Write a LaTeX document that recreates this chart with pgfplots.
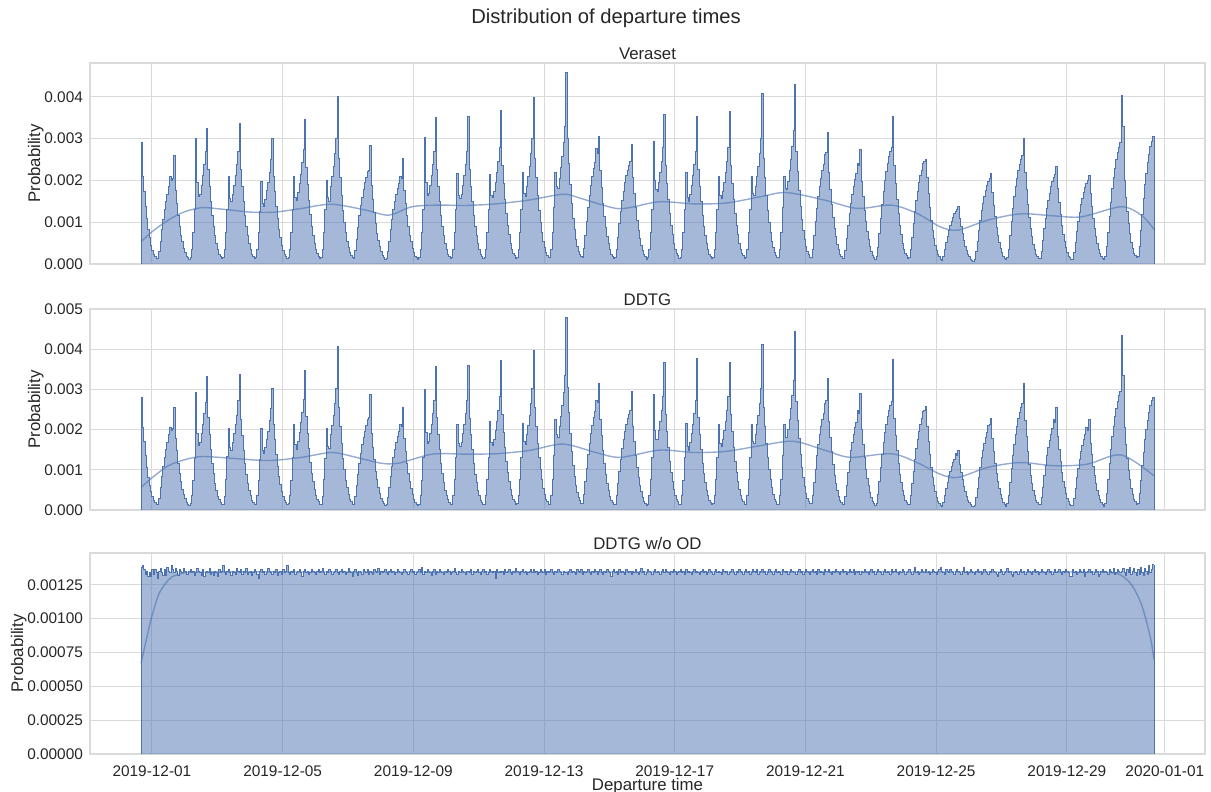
\documentclass[border=0pt]{standalone}
\usepackage{fontspec}
\setmainfont{Liberation Sans}
\usepackage{pgfplots}
\usepackage{pgfplotstable}
\pgfplotsset{compat=1.18}
\definecolor{deep}{HTML}{4C72B0}
\definecolor{gridc}{HTML}{DADADA}
\definecolor{txt}{HTML}{262626}

% Veraset: hourly bins, values in units of 1e-5
\pgfplotstableread[row sep=\\,header=false]{
290\\210\\173\\138\\108\\83\\63\\45\\33\\23\\18\\13\\13\\29\\55\\82\\107\\130\\149\\166\\185\\210\\200\\205\\
260\\176\\145\\116\\90\\69\\53\\38\\27\\19\\15\\11\\15\\35\\75\\130\\300\\194\\162\\167\\189\\211\\238\\270\\
325\\227\\186\\149\\116\\89\\68\\49\\35\\24\\19\\14\\15\\35\\75\\130\\210\\157\\149\\167\\189\\211\\238\\270\\
337\\227\\186\\149\\116\\89\\68\\49\\35\\24\\19\\14\\15\\35\\75\\125\\197\\145\\138\\155\\175\\195\\220\\250\\
300\\210\\173\\138\\108\\83\\63\\45\\33\\23\\18\\13\\15\\35\\75\\130\\210\\160\\151\\171\\193\\215\\242\\275\\
346\\231\\190\\151\\118\\91\\69\\50\\36\\25\\19\\14\\15\\35\\75\\130\\200\\160\\150\\186\\210\\234\\264\\300\\
402\\252\\207\\165\\129\\99\\75\\54\\39\\27\\21\\15\\14\\32\\59\\88\\115\\140\\160\\178\\194\\207\\222\\225\\
283\\189\\155\\124\\97\\74\\56\\41\\29\\20\\16\\11\\13\\29\\55\\82\\107\\130\\149\\166\\181\\193\\210\\205\\
252\\176\\145\\116\\90\\69\\53\\38\\27\\19\\15\\11\\15\\35\\75\\130\\303\\194\\165\\170\\189\\211\\238\\270\\
350\\227\\186\\149\\116\\89\\68\\49\\35\\24\\19\\14\\15\\35\\75\\130\\217\\165\\158\\167\\189\\211\\238\\270\\
352\\227\\186\\149\\116\\89\\68\\49\\35\\24\\19\\14\\15\\35\\75\\130\\215\\165\\160\\174\\196\\218\\246\\280\\
368\\235\\193\\154\\120\\92\\70\\50\\36\\25\\20\\14\\15\\35\\75\\130\\220\\170\\162\\186\\210\\234\\264\\300\\
398\\252\\207\\165\\129\\99\\75\\54\\39\\27\\21\\15\\15\\35\\75\\135\\220\\185\\180\\205\\231\\257\\290\\330\\
458\\300\\240\\190\\145\\110\\83\\59\\43\\30\\23\\17\\16\\37\\69\\103\\135\\164\\188\\209\\228\\244\\277\\265\\
305\\223\\183\\146\\114\\87\\66\\48\\34\\24\\19\\13\\15\\34\\64\\96\\125\\152\\174\\194\\211\\225\\235\\245\\
285\\206\\169\\135\\105\\81\\61\\44\\32\\22\\17\\12\\15\\35\\75\\130\\294\\200\\178\\174\\196\\218\\246\\280\\
358\\235\\193\\154\\120\\92\\70\\50\\36\\25\\20\\14\\15\\35\\75\\130\\220\\160\\150\\167\\189\\211\\238\\270\\
352\\227\\186\\149\\116\\89\\68\\49\\35\\24\\19\\14\\15\\35\\75\\130\\210\\165\\158\\174\\196\\218\\246\\280\\
364\\235\\193\\154\\120\\92\\70\\50\\36\\25\\20\\14\\15\\35\\75\\130\\210\\170\\165\\186\\210\\234\\264\\300\\
408\\252\\207\\165\\129\\99\\75\\54\\39\\27\\21\\15\\15\\35\\75\\135\\210\\180\\178\\198\\224\\250\\282\\320\\
430\\269\\221\\176\\138\\106\\80\\58\\42\\29\\22\\16\\16\\36\\68\\101\\133\\161\\185\\205\\224\\239\\262\\268\\
314\\218\\179\\143\\112\\86\\65\\47\\34\\23\\18\\13\\14\\33\\61\\92\\120\\146\\167\\186\\202\\216\\240\\235\\
273\\197\\162\\129\\101\\78\\59\\42\\31\\21\\16\\12\\17\\39\\73\\109\\143\\174\\199\\221\\241\\258\\269\\280\\
354\\235\\193\\154\\120\\92\\70\\50\\36\\25\\20\\14\\15\\34\\64\\96\\125\\152\\174\\194\\211\\225\\240\\245\\
249\\206\\169\\135\\105\\81\\61\\44\\32\\22\\17\\12\\8\\18\\34\\51\\66\\81\\92\\103\\112\\120\\125\\130\\
137\\109\\90\\72\\56\\43\\33\\23\\17\\12\\9\\7\\12\\29\\53\\80\\105\\127\\146\\162\\176\\189\\197\\205\\
217\\172\\141\\113\\88\\68\\51\\37\\27\\18\\14\\10\\16\\36\\68\\101\\133\\161\\185\\205\\224\\239\\250\\260\\
300\\218\\179\\143\\112\\86\\65\\47\\34\\23\\18\\13\\13\\30\\56\\84\\110\\133\\153\\170\\185\\198\\206\\215\\
233\\181\\148\\118\\92\\71\\54\\39\\28\\19\\15\\11\\12\\28\\52\\78\\102\\124\\142\\158\\172\\184\\192\\200\\
211\\168\\138\\110\\86\\66\\50\\36\\26\\18\\14\\10\\17\\41\\75\\113\\148\\180\\206\\229\\249\\267\\280\\290\\
404\\330\\200\\160\\125\\96\\73\\52\\38\\26\\20\\15\\18\\43\\80\\119\\156\\190\\217\\242\\263\\282\\294\\306\\
306\\
}\tblA

% DDTG
\pgfplotstableread[row sep=\\,header=false]{
279\\205\\170\\136\\106\\82\\62\\45\\33\\23\\18\\13\\13\\29\\56\\83\\108\\131\\150\\168\\188\\205\\198\\203\\
256\\178\\147\\115\\91\\70\\52\\38\\28\\19\\15\\12\\16\\36\\74\\128\\292\\190\\160\\168\\190\\213\\240\\268\\
331\\229\\188\\150\\117\\90\\67\\48\\34\\25\\19\\14\\15\\34\\76\\132\\202\\155\\147\\168\\191\\212\\236\\272\\
338\\225\\185\\148\\115\\88\\67\\48\\35\\24\\18\\14\\15\\36\\74\\126\\202\\147\\140\\156\\176\\196\\222\\252\\
302\\212\\175\\139\\108\\84\\63\\46\\33\\23\\18\\13\\16\\35\\74\\131\\214\\162\\150\\170\\194\\217\\243\\276\\
346\\233\\190\\152\\119\\90\\70\\50\\36\\25\\20\\14\\15\\34\\76\\129\\202\\158\\152\\187\\211\\236\\266\\302\\
408\\254\\208\\166\\128\\100\\74\\55\\39\\27\\21\\15\\14\\33\\60\\89\\116\\141\\162\\180\\196\\210\\226\\229\\
287\\191\\156\\125\\96\\75\\56\\41\\29\\20\\16\\12\\13\\30\\56\\83\\108\\131\\150\\168\\183\\196\\212\\208\\
256\\178\\146\\117\\91\\70\\53\\38\\27\\19\\15\\11\\15\\36\\74\\131\\299\\192\\166\\171\\191\\213\\240\\273\\
358\\229\\187\\150\\117\\90\\68\\49\\35\\25\\19\\14\\15\\35\\76\\131\\214\\166\\157\\168\\190\\212\\240\\272\\
360\\228\\188\\150\\117\\89\\68\\49\\35\\24\\19\\14\\15\\36\\75\\130\\220\\167\\161\\175\\197\\220\\248\\283\\
373\\237\\194\\155\\121\\93\\70\\51\\36\\25\\20\\14\\16\\35\\76\\131\\215\\171\\163\\188\\211\\236\\266\\302\\
398\\254\\208\\166\\130\\100\\75\\54\\39\\27\\21\\15\\15\\36\\75\\136\\225\\187\\181\\207\\233\\259\\292\\334\\
478\\305\\242\\191\\146\\111\\84\\60\\43\\30\\23\\17\\16\\38\\70\\104\\137\\166\\190\\211\\230\\246\\272\\268\\
316\\225\\185\\147\\115\\88\\66\\48\\34\\24\\19\\13\\15\\35\\65\\97\\126\\154\\176\\196\\213\\227\\238\\248\\
295\\208\\171\\136\\106\\82\\62\\45\\32\\22\\17\\12\\15\\36\\76\\131\\287\\198\\176\\175\\197\\220\\248\\283\\
367\\237\\195\\155\\121\\93\\70\\51\\36\\25\\20\\14\\15\\35\\74\\131\\215\\158\\149\\168\\190\\213\\240\\272\\
378\\229\\188\\150\\117\\90\\68\\49\\35\\24\\19\\14\\16\\36\\76\\131\\214\\166\\159\\175\\198\\220\\248\\283\\
367\\237\\195\\155\\121\\93\\71\\51\\36\\25\\20\\14\\15\\35\\75\\131\\214\\171\\166\\188\\212\\236\\266\\303\\
412\\254\\209\\166\\130\\100\\75\\55\\39\\27\\21\\15\\15\\36\\76\\136\\214\\181\\180\\200\\226\\252\\284\\322\\
444\\271\\223\\177\\139\\107\\81\\58\\42\\29\\22\\16\\16\\37\\69\\102\\135\\163\\187\\207\\226\\241\\265\\272\\
327\\221\\181\\145\\113\\87\\66\\48\\34\\23\\18\\13\\14\\34\\62\\93\\121\\148\\169\\188\\205\\219\\247\\240\\
289\\200\\164\\131\\102\\79\\60\\43\\31\\21\\16\\12\\16\\38\\70\\105\\138\\167\\192\\213\\232\\248\\259\\270\\
374\\227\\186\\149\\116\\89\\68\\49\\35\\24\\19\\14\\15\\35\\65\\97\\126\\154\\176\\196\\213\\228\\245\\248\\
257\\208\\171\\137\\106\\82\\62\\45\\32\\22\\17\\12\\9\\19\\36\\53\\69\\85\\97\\108\\118\\126\\140\\135\\
147\\114\\94\\75\\58\\45\\34\\24\\18\\13\\10\\8\\12\\30\\54\\82\\107\\130\\149\\165\\180\\193\\210\\212\\
227\\177\\145\\116\\90\\70\\53\\38\\28\\19\\15\\10\\16\\37\\69\\103\\135\\164\\188\\209\\228\\243\\255\\265\\
316\\222\\183\\146\\114\\87\\66\\48\\35\\24\\18\\13\\13\\31\\57\\86\\112\\136\\156\\173\\189\\202\\225\\218\\
254\\183\\150\\120\\94\\72\\55\\40\\29\\20\\15\\11\\12\\29\\53\\80\\104\\126\\145\\161\\175\\188\\205\\198\\
225\\166\\137\\109\\85\\65\\49\\36\\26\\18\\14\\10\\17\\42\\77\\115\\150\\183\\209\\232\\253\\271\\285\\296\\
433\\335\\205\\163\\127\\98\\75\\54\\39\\27\\20\\15\\17\\40\\74\\110\\144\\175\\200\\222\\242\\260\\272\\281\\
281\\
}\tblB

% DDTG w/o OD
\pgfplotstableread[row sep=\\,header=false]{
138\\139\\136\\133\\135\\131\\134\\131\\136\\133\\136\\134\\130\\135\\137\\134\\132\\136\\132\\138\\135\\134\\139\\136\\
134\\137\\135\\132\\136\\135\\134\\137\\135\\133\\133\\135\\136\\134\\135\\132\\134\\137\\135\\134\\132\\136\\131\\134\\
135\\134\\137\\133\\134\\132\\135\\134\\131\\136\\134\\135\\139\\134\\133\\135\\136\\134\\132\\135\\134\\133\\137\\135\\
134\\136\\133\\135\\134\\137\\133\\134\\135\\132\\134\\136\\135\\133\\130\\135\\136\\134\\135\\133\\134\\137\\135\\134\\
133\\135\\134\\136\\132\\134\\135\\133\\136\\134\\135\\139\\134\\133\\135\\134\\136\\133\\134\\135\\136\\134\\131\\135\\
136\\134\\135\\133\\134\\136\\135\\134\\133\\135\\136\\134\\135\\137\\134\\133\\135\\134\\136\\135\\133\\134\\135\\136\\
134\\133\\135\\136\\134\\135\\133\\134\\137\\135\\134\\131\\135\\136\\134\\132\\135\\134\\133\\136\\135\\134\\136\\133\\
135\\134\\133\\136\\135\\134\\137\\133\\135\\134\\135\\136\\134\\133\\135\\136\\134\\135\\133\\134\\136\\135\\134\\133\\
134\\136\\135\\134\\133\\135\\136\\134\\135\\133\\134\\135\\136\\134\\138\\133\\135\\134\\136\\135\\134\\132\\135\\136\\
133\\135\\134\\136\\135\\134\\133\\135\\134\\136\\135\\133\\134\\135\\137\\134\\133\\135\\134\\136\\135\\134\\133\\135\\
135\\134\\136\\133\\135\\134\\135\\136\\134\\133\\135\\136\\134\\135\\133\\134\\136\\135\\134\\135\\130\\136\\134\\135\\
134\\135\\133\\136\\134\\135\\136\\134\\133\\135\\134\\137\\135\\134\\133\\135\\136\\134\\135\\133\\134\\135\\136\\134\\
136\\134\\135\\133\\134\\136\\135\\134\\136\\133\\135\\134\\135\\136\\134\\133\\135\\134\\136\\135\\134\\133\\135\\134\\
134\\133\\135\\136\\134\\135\\134\\133\\136\\135\\134\\136\\133\\135\\134\\135\\136\\134\\133\\135\\134\\136\\135\\133\\
135\\136\\134\\133\\135\\134\\136\\135\\134\\131\\135\\136\\134\\135\\133\\136\\134\\135\\134\\133\\136\\135\\134\\135\\
133\\135\\134\\136\\134\\133\\135\\137\\134\\135\\133\\134\\136\\135\\134\\133\\135\\136\\134\\135\\134\\133\\135\\136\\
134\\136\\135\\134\\133\\135\\134\\136\\135\\133\\134\\135\\136\\134\\135\\133\\136\\134\\135\\134\\133\\135\\136\\134\\
135\\134\\133\\135\\136\\134\\135\\133\\134\\136\\135\\134\\133\\135\\136\\134\\135\\134\\133\\136\\135\\134\\135\\133\\
134\\135\\136\\134\\133\\135\\134\\136\\135\\134\\133\\135\\136\\134\\135\\133\\134\\136\\135\\134\\136\\133\\134\\135\\
136\\134\\135\\133\\134\\136\\135\\134\\133\\135\\136\\134\\135\\134\\133\\136\\135\\134\\135\\133\\134\\136\\135\\134\\
134\\133\\135\\136\\134\\135\\133\\134\\136\\135\\134\\133\\135\\136\\134\\135\\133\\136\\134\\135\\134\\133\\136\\135\\
135\\136\\134\\133\\135\\134\\136\\135\\134\\133\\135\\136\\134\\135\\133\\134\\136\\135\\134\\136\\133\\135\\134\\135\\
133\\135\\134\\136\\135\\134\\133\\135\\136\\134\\135\\133\\134\\136\\135\\134\\133\\135\\136\\134\\135\\134\\133\\136\\
134\\135\\136\\134\\133\\135\\134\\136\\135\\133\\134\\135\\136\\134\\133\\135\\138\\134\\135\\133\\134\\136\\135\\134\\
136\\134\\135\\133\\134\\136\\135\\134\\133\\135\\136\\138\\135\\134\\133\\136\\135\\134\\136\\135\\134\\133\\135\\136\\
135\\134\\133\\135\\138\\134\\135\\133\\134\\136\\135\\134\\133\\135\\136\\134\\135\\133\\134\\136\\135\\134\\133\\135\\
134\\136\\135\\134\\133\\131\\134\\136\\135\\133\\134\\135\\137\\134\\135\\133\\131\\134\\135\\134\\133\\135\\136\\134\\
135\\133\\134\\136\\135\\134\\133\\135\\136\\134\\135\\133\\134\\136\\135\\134\\133\\135\\136\\134\\135\\133\\134\\136\\
134\\135\\136\\134\\133\\135\\134\\136\\135\\134\\131\\131\\136\\134\\135\\133\\134\\136\\135\\134\\136\\131\\134\\135\\
136\\134\\135\\133\\134\\136\\135\\131\\133\\135\\136\\134\\135\\134\\133\\136\\135\\134\\137\\133\\134\\136\\135\\134\\
135\\137\\134\\132\\136\\134\\138\\133\\135\\137\\134\\132\\136\\133\\138\\134\\132\\137\\135\\133\\139\\134\\136\\140\\
140\\
}\tblC

\pgfplotsset{
  panel/.style={
    width=557.5pt, height=100.5pt, scale only axis,
    xmin=-45.5, xmax=773.5, ymin=0,
    xtick={0,96,192,288,384,480,576,672,744},
    xticklabels={},
    grid=major,
    grid style={draw=gridc, line width=0.5pt},
    axis line style={draw=gridc, line width=0.7pt},
    major tick length=0pt,
    ticklabel style={font=\fontsize{7.7}{9}\selectfont, text=txt},
    xticklabel style={yshift=-2.5pt},
    label style={font=\fontsize{8.4}{10}\selectfont, text=txt},
    ylabel style={at={(ticklabel cs:0.5,-6.5pt)}},
    xlabel style={yshift=6pt},
    title style={font=\fontsize{8.4}{10}\selectfont, text=txt, at={(0.5,1)}, anchor=south, yshift=-5.5pt, inner sep=1pt},
    ylabel={Probability},
    /pgf/number format/assume math mode=true,
  },
  hist/.style={const plot, draw=none, fill=deep, fill opacity=0.5, forget plot},
  histline/.style={const plot, draw=deep, line width=0.45pt, forget plot, mark=none},
  edge/.style={draw=deep, line width=0.45pt, forget plot, mark=none},
  kde/.style={smooth, draw=deep, draw opacity=0.6, line width=0.7pt, mark=none, forget plot},
}

\begin{document}
\begin{tikzpicture}
\begin{axis}[panel, at={(0pt,0pt)}, anchor=north west, ymax=481,
  ytick={0,100,200,300,400}, yticklabels={0.000,0.001,0.002,0.003,0.004},
  title={Veraset}]
\addplot[hist] table[x expr=\coordindex-8, y index=0]{\tblA} \closedcycle;
\addplot[histline] table[x expr=\coordindex-8, y index=0]{\tblA};
\addplot[edge] coordinates {(-8,0) (-8,290)};
\addplot[edge] coordinates {(736,0) (736,306)};
\addplot[kde] coordinates {(-8,53) (0,77) (12,105) (24,125) (37,135) (49,132) (61,128) (73,124) (90,124) (110,133) (132,143) (157,129) (174,117) (191,137) (211,141) (230,140) (253,144) (277,153) (302,167) (314,158) (326,146) (341,133) (351,135) (373,149) (398,144) (422,146) (447,161) (466,171) (494,153) (518,133) (543,141) (562,121) (579,89) (592,81) (614,105) (638,120) (663,115) (683,113) (712,137) (727,116) (736,83)};
\end{axis}

\begin{axis}[panel, at={(0pt,-123pt)}, anchor=north west, ymax=500,
  ytick={0,100,200,300,400,500}, yticklabels={0.000,0.001,0.002,0.003,0.004,0.005},
  title={DDTG}]
\addplot[hist] table[x expr=\coordindex-8, y index=0]{\tblB} \closedcycle;
\addplot[histline] table[x expr=\coordindex-8, y index=0]{\tblB};
\addplot[edge] coordinates {(-8,0) (-8,279)};
\addplot[edge] coordinates {(736,0) (736,281)};
\addplot[kde] coordinates {(-8,56) (0,80) (12,110) (24,125) (37,133) (61,128) (86,123) (110,131) (132,143) (150,131) (169,116) (182,117) (206,139) (230,139) (253,140) (277,148) (302,164) (326,143) (344,131) (373,149) (398,143) (422,146) (447,160) (471,171) (494,149) (513,131) (543,140) (562,118) (579,89) (592,81) (614,106) (638,118) (663,110) (687,114) (712,137) (736,85)};
\end{axis}

\begin{axis}[panel, at={(0pt,-245pt)}, anchor=north west, ymax=148.5,
  ytick={0,25,50,75,100,125},
  yticklabels={0.00000,0.00025,0.00050,0.00075,0.00100,0.00125},
  xticklabels={2019-12-01,2019-12-05,2019-12-09,2019-12-13,2019-12-17,2019-12-21,2019-12-25,2019-12-29,2020-01-01},
  xlabel={Departure time},
  title={DDTG w/o OD}]
\addplot[hist] table[x expr=\coordindex-8, y index=0]{\tblC} \closedcycle;
\addplot[histline] table[x expr=\coordindex-8, y index=0]{\tblC};
\addplot[edge] coordinates {(-8,0) (-8,138)};
\addplot[edge] coordinates {(736,0) (736,140)};
\addplot[kde] coordinates {(-8,67) (-4,85) (0,102) (5,118) (10,126) (15,131) (25,134) (40,134.5) (100,134.5) (250,134.5) (400,134.5) (550,134.5) (690,134.4) (703,134) (710,133) (717,128) (722,121) (727,110) (731,96) (734,83) (736,70)};
\end{axis}

\node[font=\fontsize{10.1}{12}\selectfont, text=txt] at (258pt,22.5pt) {Distribution of departure times};

\pgfresetboundingbox
\path[use as bounding box] (-45pt,31.5pt) rectangle (560.5pt,-364.5pt);
\end{tikzpicture}
\end{document}
